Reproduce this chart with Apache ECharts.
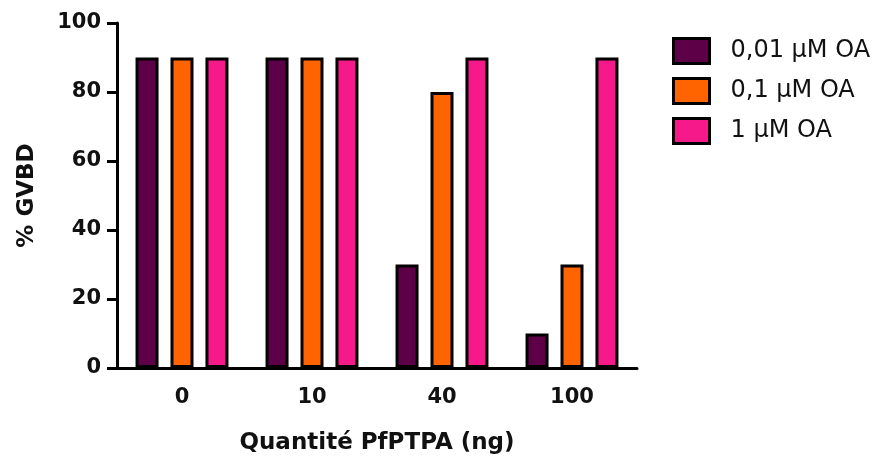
<!DOCTYPE html>
<html>
<head>
<meta charset="utf-8">
<script src="https://cdn.jsdelivr.net/npm/echarts@6/dist/echarts.min.js"></script>
<style>
  html, body { margin: 0; padding: 0; background: #fff; }
  #chart { width: 880px; height: 457px; }
</style>
</head>
<body>
<div id="chart"></div>
<script>
const categories = ['0', '10', '40', '100']
const seriesNames = ['0,01 µM OA', '0,1 µM OA', '1 µM OA']
const oa001 = [90, 90, 30, 10]
const oa01 = [90, 90, 80, 30]
const oa1 = [90, 90, 90, 90]
const yTicks = [0, 20, 40, 60, 80, 100]

const COLORS = ['#5e0048', '#ff6400', '#f5198a']
const FONT = 'DejaVu Sans'

const chart = echarts.init(document.getElementById('chart'), null, { renderer: 'canvas' })

const values = [oa001, oa01, oa1]
const series = seriesNames.map((name, i) => ({
  type: 'bar',
  name,
  data: values[i],
  barWidth: 23,
  barGap: '52%',
  itemStyle: { color: COLORS[i], borderColor: '#000', borderWidth: 3 },
}))

chart.setOption({
  animation: false,
  grid: { left: 117, right: 243, top: 23, bottom: 89, containLabel: false, outerBoundsMode: 'none' },
  legend: {
    data: seriesNames,
    orient: 'vertical',
    left: 672,
    top: 37,
    padding: 0,
    itemWidth: 36,
    itemHeight: 25,
    itemGap: 12,
    icon: 'rect',
    textStyle: { fontFamily: FONT, fontSize: 24, color: '#111', padding: [0, 0, 0, 16] },
    itemStyle: { borderColor: '#000', borderWidth: 3 },
  },
  xAxis: {
    type: 'category',
    data: categories,
    name: 'Quantité PfPTPA (ng)',
    nameLocation: 'middle',
    nameGap: 64,
    nameTextStyle: { fontFamily: FONT, fontSize: 23, fontWeight: 'bold', color: '#111' },
    axisLine: { lineStyle: { color: '#000', width: 3 } },
    axisTick: { alignWithLabel: true, length: 10, lineStyle: { color: '#000', width: 3 } },
    axisLabel: { fontFamily: FONT, fontSize: 21, fontWeight: 'bold', color: '#111', margin: 19 },
  },
  yAxis: {
    type: 'value',
    min: 0,
    max: 100,
    interval: 20,
    name: '% GVBD',
    nameLocation: 'middle',
    nameGap: 78,
    nameTextStyle: { fontFamily: FONT, fontSize: 23, fontWeight: 'bold', color: '#111' },
    axisLine: { show: true, lineStyle: { color: '#000', width: 3 } },
    axisTick: { show: true, length: 10, lineStyle: { color: '#000', width: 3 } },
    axisLabel: {
      fontFamily: FONT, fontSize: 21, fontWeight: 'bold', color: '#111', margin: 16,
      formatter: v => yTicks.includes(v) ? String(v) : '',
    },
    splitLine: { show: false },
  },
  series,
})
</script>
</body>
</html>
